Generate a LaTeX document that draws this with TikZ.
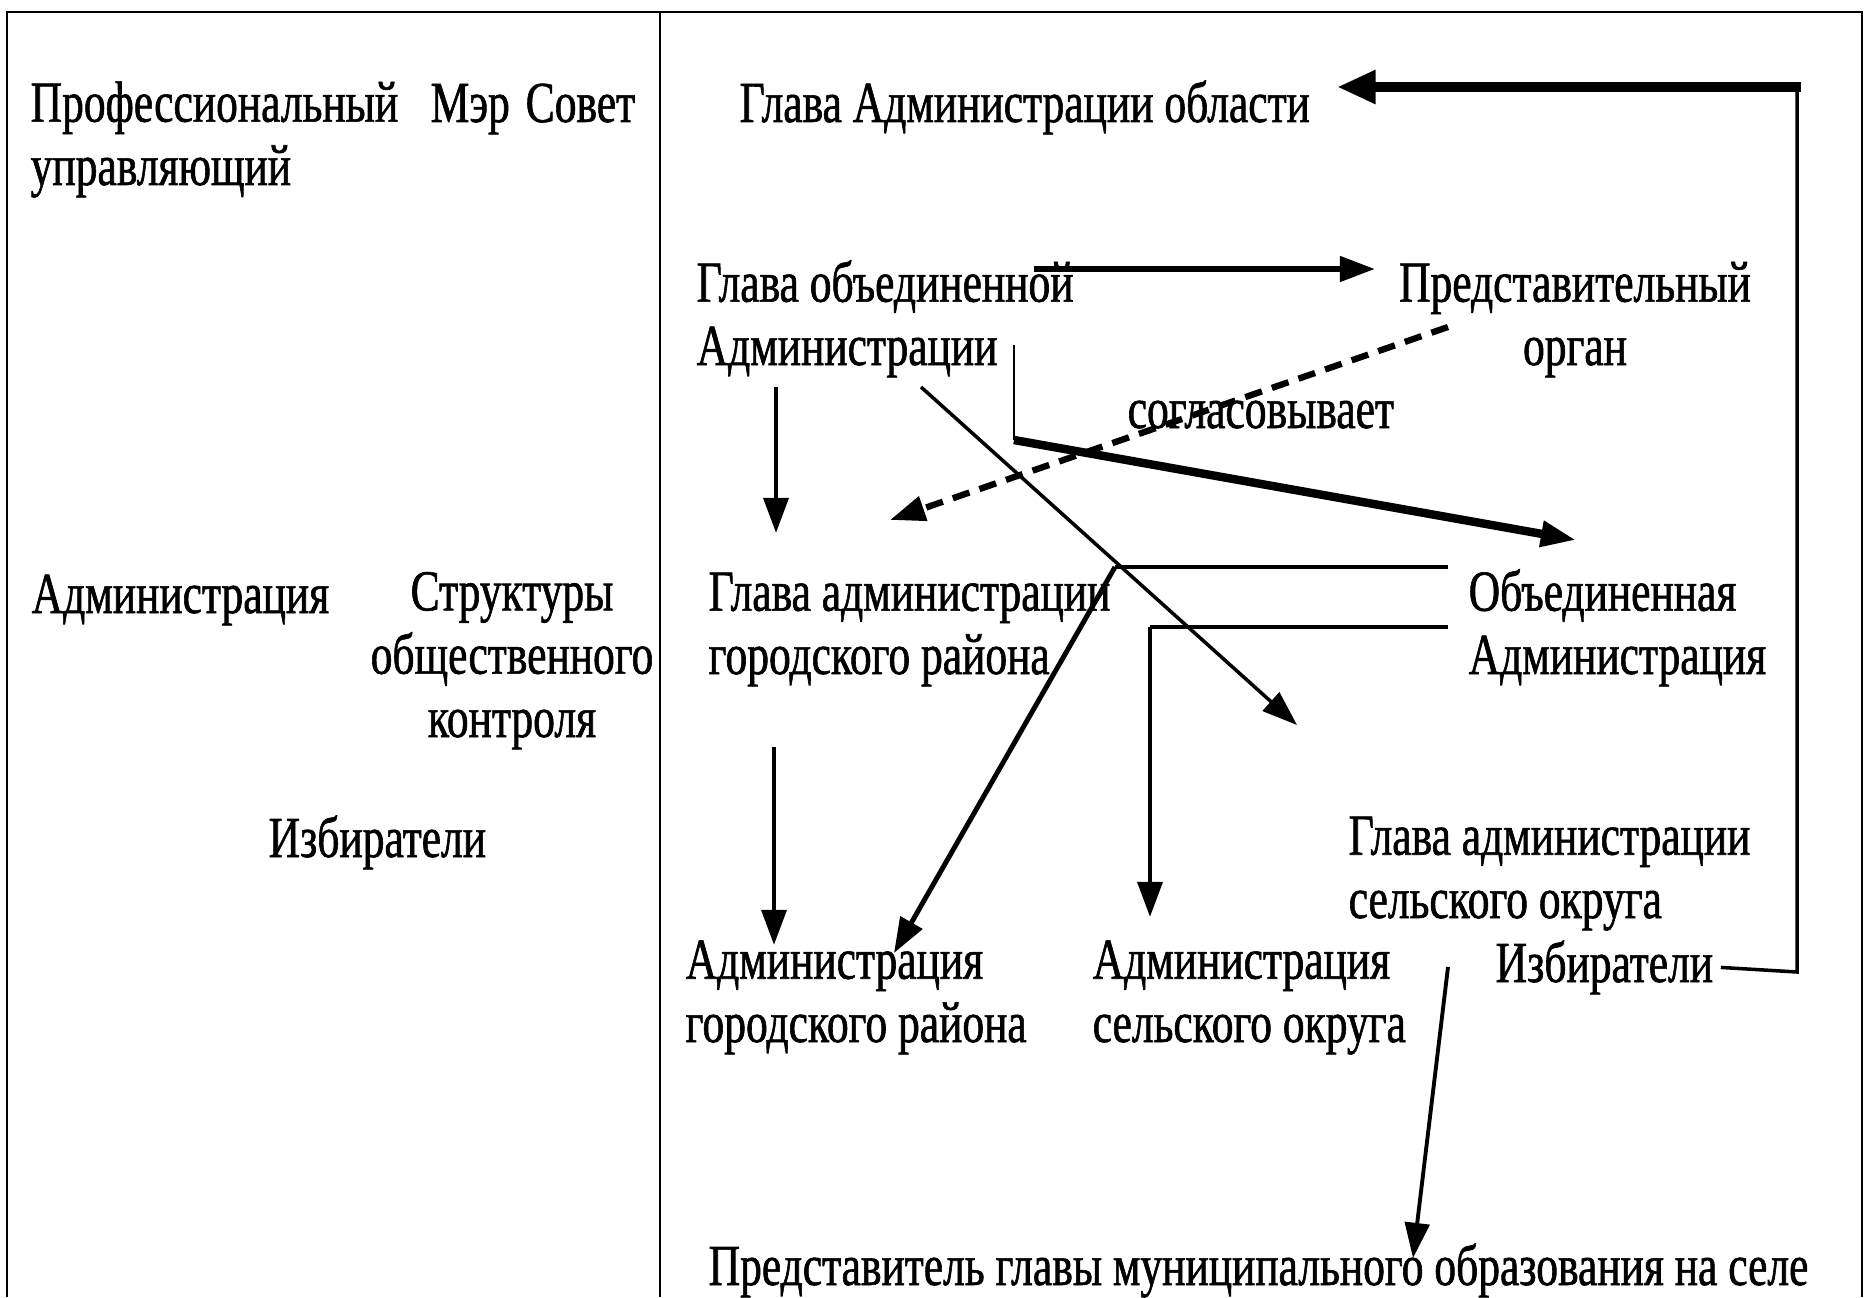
\documentclass[tikz,border=0pt]{standalone}
\usepackage{fontspec}
\setmainfont{Liberation Serif}[FakeStretch=0.75,FakeBold=1]
\usetikzlibrary{arrows.meta}

\begin{document}
\begin{tikzpicture}[x=0.01cm,y=-0.01cm,
    lbl/.style={inner sep=0pt,anchor=base west,align=left,font=\fontsize{16.5}{18}\selectfont},
    arr/.style={-{Triangle[length=10pt,width=7pt]},line width=1.4pt},
    wire/.style={line width=1pt}]
\useasboundingbox (0,0) rectangle (1864,1297);
% frame
\draw[line width=0.8pt] (7,1297) -- (7,12) -- (1862,12) -- (1862,1297);
\draw[line width=0.8pt] (660,12) -- (660,1297);

% left column (multi-line labels sit on their last line)
\node[lbl] (prof) at (30,185) {Профессиональный\\управляющий};
\node[lbl] (mayor) at (430,122) {Мэр};
\node[lbl] (council) at (525,122) {Совет};
\node[lbl] (adm) at (31,613) {Администрация};
\node[lbl,anchor=base,align=center] (control) at (512,737) {Структуры\\общественного\\контроля};
\node[lbl] (votersL) at (268,857) {Избиратели};

% right column
\node[lbl] (headreg) at (739,122) {Глава Администрации области};
\node[lbl] (headunion) at (696,365) {Глава объединенной\\Администрации};
\node[lbl,anchor=base,align=center] (repbody) at (1575,365) {Представительный\\орган};
\node[lbl] (agrees) at (1127,428) {согласовывает};
\node[lbl] (headcity) at (708,674) {Глава администрации\\городского района};
\node[lbl] (unionadm) at (1468,674) {Объединенная\\Администрация};
\node[lbl] (headrural) at (1348,918) {Глава администрации\\сельского округа};
\node[lbl] (cityadm) at (685,1042) {Администрация\\городского района};
\node[lbl] (ruraladm) at (1092,1042) {Администрация\\сельского округа};
\node[lbl] (voters) at (1495,982) {Избиратели};
\node[lbl] (delegate) at (708,1285) {Представитель главы муниципального образования на селе};

% connector ends
\coordinate (votersR) at (1797,972);
\coordinate (topR) at (1797,87);
\coordinate (topTip) at (1337,87);
\coordinate (unionA) at (1034,269);
\coordinate (unionB) at (1375,269);
\coordinate (agreeA) at (1448,327);
\coordinate (agreeB) at (890,520);
\coordinate (stemA) at (1014,345);
\coordinate (stemB) at (1014,440);
\coordinate (stemTip) at (1576,540);
\coordinate (slantA) at (921,387);
\coordinate (slantTip) at (1297,725);
\coordinate (downA) at (776,387);
\coordinate (downTip) at (776,533);
\coordinate (barA) at (1448,567);
\coordinate (barB) at (1115,567);
\coordinate (barTip) at (894,953);
\coordinate (rowA) at (1448,627);
\coordinate (rowB) at (1150,627);
\coordinate (rowTip) at (1150,917);
\coordinate (cityA) at (774,747);
\coordinate (cityTip) at (774,945);
\coordinate (selA) at (1448,967);
\coordinate (selTip) at (1413,1258);

% connectors
\draw[wire] ([xshift=2pt]voters.east) -- (votersR) -- (topR);
\draw[arr,line width=2.85pt,-{Triangle[length=11pt,width=9pt]}] ([xshift=1pt]topR) -- (topTip);
\draw[arr,line width=1.7pt] (unionA) -- (unionB);
\draw[arr,line width=1.8pt,dash pattern=on 5pt off 3pt] (agreeA) -- (agreeB);
\draw[line width=0.6pt] (stemA) -- (stemB);
\draw[arr,line width=2.4pt] (stemB) -- (stemTip);
\draw[arr,line width=1pt] (slantA) -- (slantTip);
\draw[arr] (downA) -- (downTip);
\draw[wire] (barA) -- (barB);
\draw[arr] (barB) -- (barTip);
\draw[wire] (rowA) -- (rowB);
\draw[arr] (rowB) -- (rowTip);
\draw[arr] (cityA) -- (cityTip);
\draw[arr,line width=1.1pt] (selA) -- (selTip);
\end{tikzpicture}
\end{document}
